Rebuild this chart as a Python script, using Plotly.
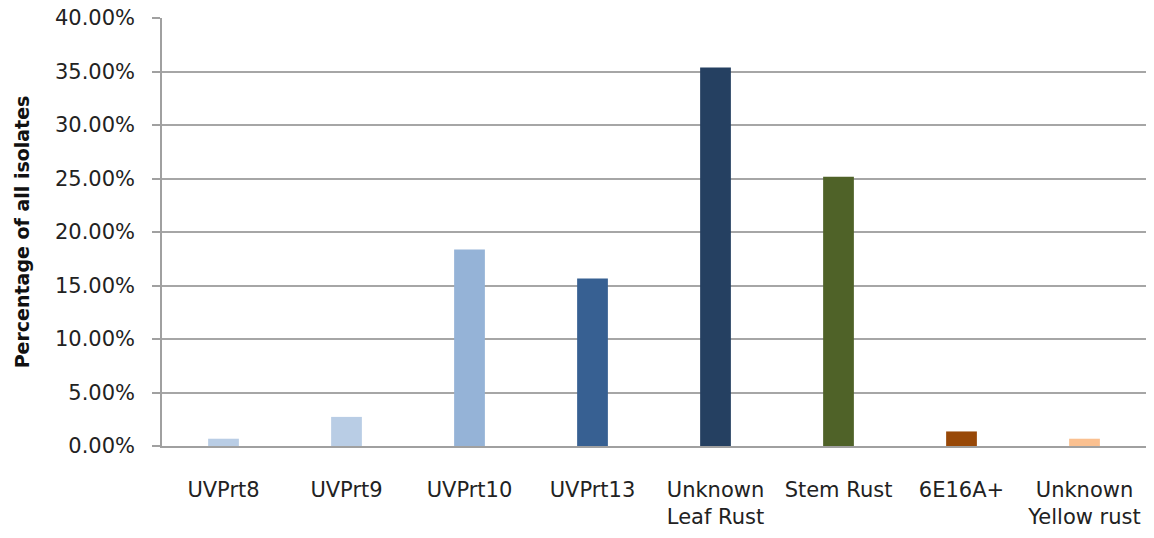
import plotly.graph_objects as go

categories = ["UVPrt8", "UVPrt9", "UVPrt10", "UVPrt13", "Unknown<br>Leaf Rust",
              "Stem Rust", "6E16A+", "Unknown<br>Yellow rust"]
percentages = [0.68, 2.72, 18.37, 15.65, 35.37, 25.17, 1.36, 0.68]
bar_colors = ["#b9cde5", "#b9cde5", "#95b3d7", "#376092", "#254061",
              "#4f6228", "#984807", "#fac090"]
y_ticks = [0, 5, 10, 15, 20, 25, 30, 35, 40]
y_tick_labels = ["%.2f%%" % v for v in y_ticks]

fig = go.Figure(go.Bar(
    x=categories, y=percentages,
    marker=dict(color=bar_colors, line=dict(width=0)),
))

font_family = "DejaVu Sans, sans-serif"
fig.update_layout(
    width=1154, height=538,
    margin=dict(l=162, r=8, t=18, b=92),
    plot_bgcolor="white", paper_bgcolor="white",
    bargap=0.75,
    showlegend=False,
    font=dict(family=font_family, size=21, color="#222222"),
)
fig.update_xaxes(
    automargin=False,
    showgrid=False, showline=True, linecolor="#a0a0a0", linewidth=1.5,
    ticks="", ticklabelstandoff=24,
    tickfont=dict(size=21, color="#222222"),
)
fig.update_yaxes(
    automargin=False,
    range=[0, 40], tickvals=y_ticks, ticktext=y_tick_labels,
    ticklabeloverflow="allow",
    showgrid=True, gridcolor="#a6a6a6", gridwidth=1.5,
    showline=True, linecolor="#a0a0a0", linewidth=1.5,
    ticks="outside", ticklen=8, tickcolor="#a0a0a0", tickwidth=1.5,
    ticklabelstandoff=13,
    zeroline=False,
    tickfont=dict(size=21, color="#222222"),
    title=dict(text="<b>Percentage of all isolates</b>", standoff=20,
               font=dict(size=19, color="#111111")),
)

fig.write_html(
    "out.html",
    config={"displayModeBar": False},
    post_script="document.body.style.margin='0';document.body.style.overflow='hidden';",
)
